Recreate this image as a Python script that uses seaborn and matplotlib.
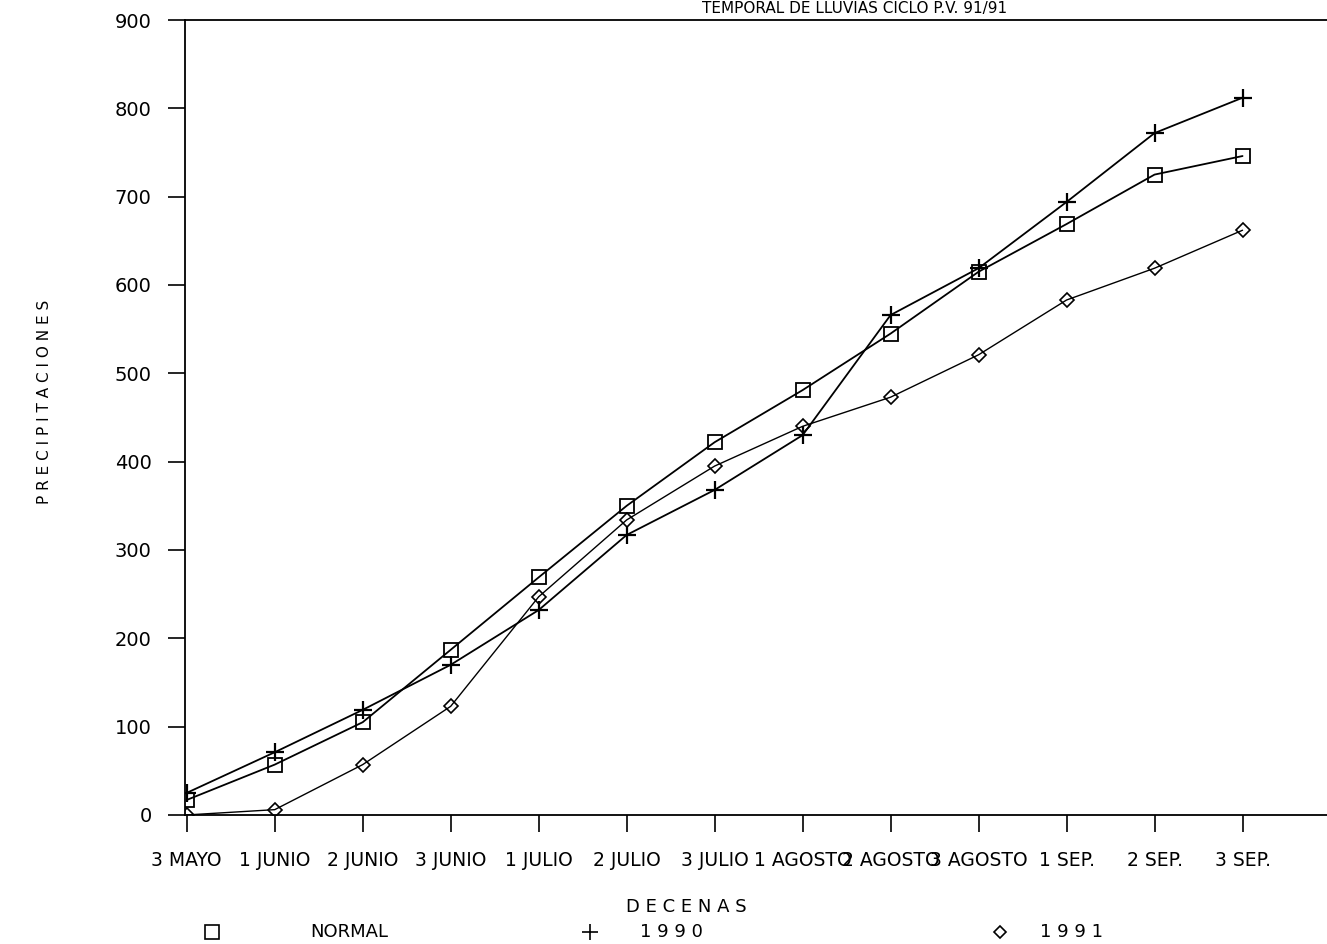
import pandas as pd
import matplotlib.pyplot as plt
import seaborn as sns
from matplotlib.lines import Line2D

# Decenas (tick labels)
decenas = ['3 MAYO', '1 JUNIO', '2 JUNIO', '3 JUNIO', '1 JULIO', '2 JULIO', '3 JULIO',
           '1 AGOSTO', '2 AGOSTO', '3 AGOSTO', '1 SEP.', '2 SEP.', '3 SEP.']

# Precipitaciones acumuladas (mm)
normal = [17, 57, 105, 187, 269, 350, 422, 481, 545, 615, 669, 725, 746]
p1990 = [25, 71, 119, 170, 232, 317, 368, 430, 566, 619, 694, 772, 812]
p1991 = [0, 6, 57, 123, 247, 334, 395, 440, 473, 521, 583, 619, 662]

idx = list(range(len(decenas)))
df = pd.DataFrame({'x': idx, 'NORMAL': normal, '1990': p1990, '1991': p1991})

sns.set_style('white')
plt.rcParams['font.family'] = ['DejaVu Sans']
plt.rcParams['text.color'] = 'black'
plt.rcParams['xtick.color'] = 'black'
plt.rcParams['ytick.color'] = 'black'

fig = plt.figure(figsize=(13.27, 9.44), dpi=100)
ax = fig.add_axes([0.1394, 0.1367, 0.8606, 0.8421])

sns.lineplot(data=df, x='x', y='NORMAL', ax=ax, color='black', lw=1.3,
             marker='s', markersize=10, markerfacecolor='none',
             markeredgecolor='black', markeredgewidth=1.3)
sns.lineplot(data=df, x='x', y='1990', ax=ax, color='black', lw=1.3,
             marker='+', markersize=13, markeredgecolor='black', markeredgewidth=1.6)
sns.lineplot(data=df, x='x', y='1991', ax=ax, color='black', lw=1.0,
             marker='D', markersize=7, markerfacecolor='none',
             markeredgecolor='black', markeredgewidth=1.2)

ax.set_xlim(-0.02, 12.96)
ax.set_ylim(0, 900)
ax.set_yticks(range(0, 901, 100))
ax.set_xticks(idx)
ax.set_xticklabels(decenas, fontsize=13.5)
ax.tick_params(axis='y', labelsize=14, direction='out', length=12, width=1.2, pad=12,
               left=True, colors='black')
ax.tick_params(axis='x', direction='out', length=12, width=1.2, pad=14, bottom=True,
               colors='black')
ax.set_xlabel('')
ax.set_ylabel('')
for s in ['left', 'bottom', 'top']:
    ax.spines[s].set_color('black')
    ax.spines[s].set_linewidth(1.3)
ax.spines['right'].set_visible(False)

# textos
fig.text(855 / 1327, 0.999, 'TEMPORAL DE LLUVIAS CICLO P.V. 91/91', ha='center', va='top', fontsize=11)
fig.text(45 / 1327, 1 - 402 / 944, 'P R E C I P I T A C I O N E S', rotation=90,
         ha='center', va='center', fontsize=11)
fig.text(686 / 1327, 1 - 907 / 944, 'D E C E N A S', ha='center', va='center', fontsize=13)

# leyenda
ly = 1 - 932 / 944
items = [('s', 212, 'NORMAL', 310, 10), ('+', 590, '1 9 9 0', 640, 12), ('D', 1000, '1 9 9 1', 1040, 6)]
for mk, mx, txt, tx, ms in items:
    fig.add_artist(Line2D([mx / 1327], [ly], transform=fig.transFigure, marker=mk, markersize=ms,
                          markerfacecolor='none', markeredgecolor='black', markeredgewidth=1.2,
                          linestyle='none'))
    fig.text(tx / 1327, ly, txt, ha='left', va='center', fontsize=13)

plt.savefig('out.png', dpi=100)
